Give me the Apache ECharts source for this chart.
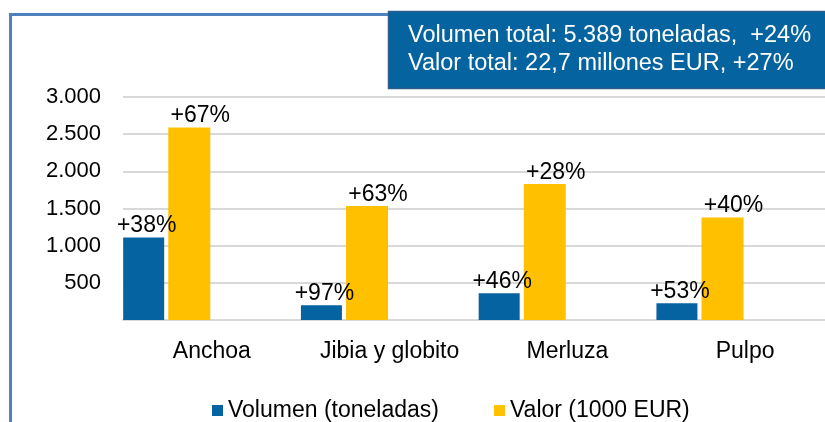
<!DOCTYPE html>
<html>
<head>
<meta charset="utf-8">
<script src="https://cdn.jsdelivr.net/npm/echarts@6/dist/echarts.min.js"></script>
<style>
  html, body { margin: 0; padding: 0; background: #fff; }
  #chart { width: 825px; height: 422px; }
</style>
</head>
<body>
<div id="chart"></div>
<script>
// datos
var categorias = ['Anchoa', 'Jibia y globito', 'Merluza', 'Pulpo']
var volumen = [1110, 200, 360, 225]
var valor = [2590, 1535, 1830, 1380]
var volumenPct = ['+38%', '+97%', '+46%', '+53%']
var valorPct = ['+67%', '+63%', '+28%', '+40%']
var serieNombres = ['Volumen (toneladas)', 'Valor (1000 EUR)']
var cajaTexto = ['Volumen total: 5.389 toneladas,  +24%', 'Valor total: 22,7 millones EUR, +27%']

var fuente = 'Liberation Sans, Arial, sans-serif'
var azul = '#0563A1'
var amarillo = '#FFC000'

var myChart = echarts.init(document.getElementById('chart'))

function miles(v) {
  if (v === 0) return ''
  return String(v).replace(/\B(?=(\d{3})+(?!\d))/g, '.')
}

var option = {
  animation: false,
  textStyle: { fontFamily: fuente },
  grid: { left: 123, width: 711, top: 97, bottom: 102, containLabel: false, outerBoundsMode: 'none' },
  legend: {
    data: serieNombres,
    left: 207,
    top: 394,
    itemWidth: 11,
    itemHeight: 11,
    itemGap: 55,
    icon: 'rect',
    textStyle: { fontSize: 23, color: '#000', fontFamily: fuente }
  },
  xAxis: {
    type: 'category',
    data: categorias,
    axisTick: { show: false },
    axisLine: { lineStyle: { color: '#d9d9d9', width: 2 } },
    axisLabel: { interval: 0, fontSize: 23, color: '#000', margin: 20, fontFamily: fuente }
  },
  yAxis: {
    type: 'value',
    min: 0,
    max: 3000,
    interval: 500,
    axisLine: { show: false },
    axisTick: { show: false },
    splitLine: { lineStyle: { color: '#d9d9d9', width: 2 } },
    axisLabel: { fontSize: 22, color: '#000', margin: 22, fontFamily: fuente, formatter: miles }
  },
  series: [
    {
      name: serieNombres[0],
      type: 'bar',
      data: volumen,
      barWidth: 41,
      barGap: '10%',
      itemStyle: { color: azul },
      label: {
        show: true,
        position: 'top',
        distance: 0,
        offset: [3, 0],
        fontSize: 23,
        color: '#000',
        fontFamily: fuente,
        formatter: function (p) { return volumenPct[p.dataIndex] }
      }
    },
    {
      name: serieNombres[1],
      type: 'bar',
      data: valor,
      barWidth: 42,
      itemStyle: { color: amarillo },
      label: {
        show: true,
        position: 'top',
        distance: 0,
        offset: [11, 0],
        fontSize: 23,
        color: '#000',
        fontFamily: fuente,
        formatter: function (p) { return valorPct[p.dataIndex] }
      }
    },
    // huecos vacíos para que los grupos queden a la izquierda
    { name: 'hueco1', type: 'bar', data: [], barWidth: 41 },
    { name: 'hueco2', type: 'bar', data: [], barWidth: 41 }
  ],
  graphic: [
    {
      type: 'rect',
      z: 0,
      silent: true,
      shape: { x: 10.5, y: 14.5, width: 900, height: 500 },
      style: { fill: 'none', stroke: '#4F81BD', lineWidth: 3 }
    },
    {
      type: 'rect',
      z: 10,
      silent: true,
      shape: { x: 388.5, y: 11.5, width: 500, height: 77 },
      style: { fill: '#0563A0', stroke: '#2F5D8A', lineWidth: 1.5 }
    },
    {
      type: 'text',
      z: 11,
      left: 408,
      top: 24,
      style: { text: cajaTexto[0], fill: '#fff', font: '23.5px ' + fuente }
    },
    {
      type: 'text',
      z: 11,
      left: 408,
      top: 52,
      style: { text: cajaTexto[1], fill: '#fff', font: '23.5px ' + fuente }
    }
  ]
}

option && myChart.setOption(option)
</script>
</body>
</html>
